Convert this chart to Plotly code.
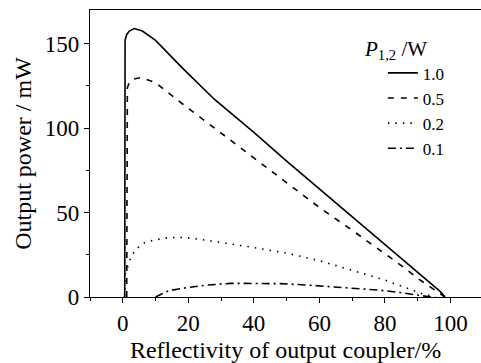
import plotly.graph_objects as go

# Reflectivity of output coupler (%) and output power (mW) per pump power P_{1,2}
x_p10 = [0.6, 0.7, 1.2, 2, 3.5, 6, 10, 18, 28, 40, 50, 60, 70, 80, 90, 95, 97, 98.3]
y_p10 = [0, 152, 155.5, 157.5, 159, 157.5, 152, 136, 117, 97.5, 80.5, 64, 47.5, 31, 14.5, 6.5, 3, 0]

x_p05 = [1.2, 1.4, 2, 3, 5.5, 10, 17.8, 30, 40, 50, 60, 70, 80, 86.5, 90, 95, 97, 98.3]
y_p05 = [0, 124, 127, 129, 130, 127, 115, 97, 82.5, 68, 53, 39.5, 25.5, 16.5, 11, 4.5, 2, 0]

x_p02 = [0.5, 0.8, 2.6, 4, 6.5, 9, 14, 18, 23, 30, 40, 50, 60, 70, 80, 87, 92, 95.5]
y_p02 = [0, 14, 24, 28.3, 32, 33.5, 35.2, 35.3, 34.3, 32.3, 29.3, 26, 21.5, 15.8, 10, 5, 1.5, 0]

x_p01 = [10, 12, 14, 20, 26, 33, 40, 48, 56, 64, 71, 78, 84, 90, 94]
y_p01 = [0, 1.8, 3.7, 5.7, 7.1, 8.1, 8.2, 7.9, 7.1, 6.1, 5.1, 4.1, 2.8, 1.3, 0]

series_names = ["1.0", "0.5", "0.2", "0.1"]
legend_title = "<i>P</i><sub>1,2</sub> /W"
x_ticks = [0, 20, 40, 60, 80, 100]
y_ticks = [0, 50, 100, 150]

FONT = "'Liberation Serif', 'Times New Roman', serif"
styles = [
    dict(dash="solid", width=1.6),
    dict(dash="6px,7px", width=1.6),
    dict(dash="1.5px,6px", width=1.6),
    dict(dash="8px,4px,2px,4px", width=1.6),
]

fig = go.Figure()
for (xs, ys), name, st in zip(
    [(x_p10, y_p10), (x_p05, y_p05), (x_p02, y_p02), (x_p01, y_p01)], series_names, styles
):
    fig.add_trace(go.Scatter(
        x=xs, y=ys, mode="lines", name=name, cliponaxis=False,
        line=dict(color="black", width=st["width"], dash=st["dash"]),
    ))

fig.update_layout(
    width=481, height=363,
    margin=dict(l=90, r=0, t=10, b=66),
    paper_bgcolor="white", plot_bgcolor="white",
    font=dict(family=FONT, size=22, color="black"),
    showlegend=True,
    legend=dict(
        x=0.749, y=0.842, xanchor="left", yanchor="top",
        bgcolor="rgba(0,0,0,0)", borderwidth=0,
        font=dict(family=FONT, size=17, color="black"),
        tracegroupgap=0,
    ),
    annotations=[dict(
        text=legend_title, xref="paper", yref="paper",
        x=0.696, y=0.862, xanchor="left", yanchor="middle",
        showarrow=False, font=dict(family=FONT, size=21, color="black"),
    )],
)

fig.update_xaxes(
    range=[-10, 109.3],
    tickvals=x_ticks, ticktext=[str(v) for v in x_ticks],
    ticks="outside", ticklen=5, tickwidth=1.2, tickcolor="black",
    minor=dict(dtick=10, tick0=0, ticks="outside", ticklen=3, tickcolor="black", showgrid=False),
    showline=True, linecolor="black", linewidth=1.3, mirror=True,
    showgrid=False, zeroline=False,
    title=dict(text="Reflectivity of output coupler/%", font=dict(family=FONT, size=24), standoff=6),
    tickfont=dict(family=FONT, size=23),
)
fig.update_yaxes(
    range=[0, 170],
    tickvals=y_ticks, ticktext=[str(v) for v in y_ticks],
    ticks="outside", ticklen=5, tickwidth=1.2, tickcolor="black",
    minor=dict(dtick=25, tick0=0, ticks="outside", ticklen=3, tickcolor="black", showgrid=False),
    showline=True, linecolor="black", linewidth=1.3, mirror=False,
    showgrid=False, zeroline=False,
    title=dict(text="Output power / mW", font=dict(family=FONT, size=24), standoff=6),
    tickfont=dict(family=FONT, size=23),
)

fig.write_html("out.html")
